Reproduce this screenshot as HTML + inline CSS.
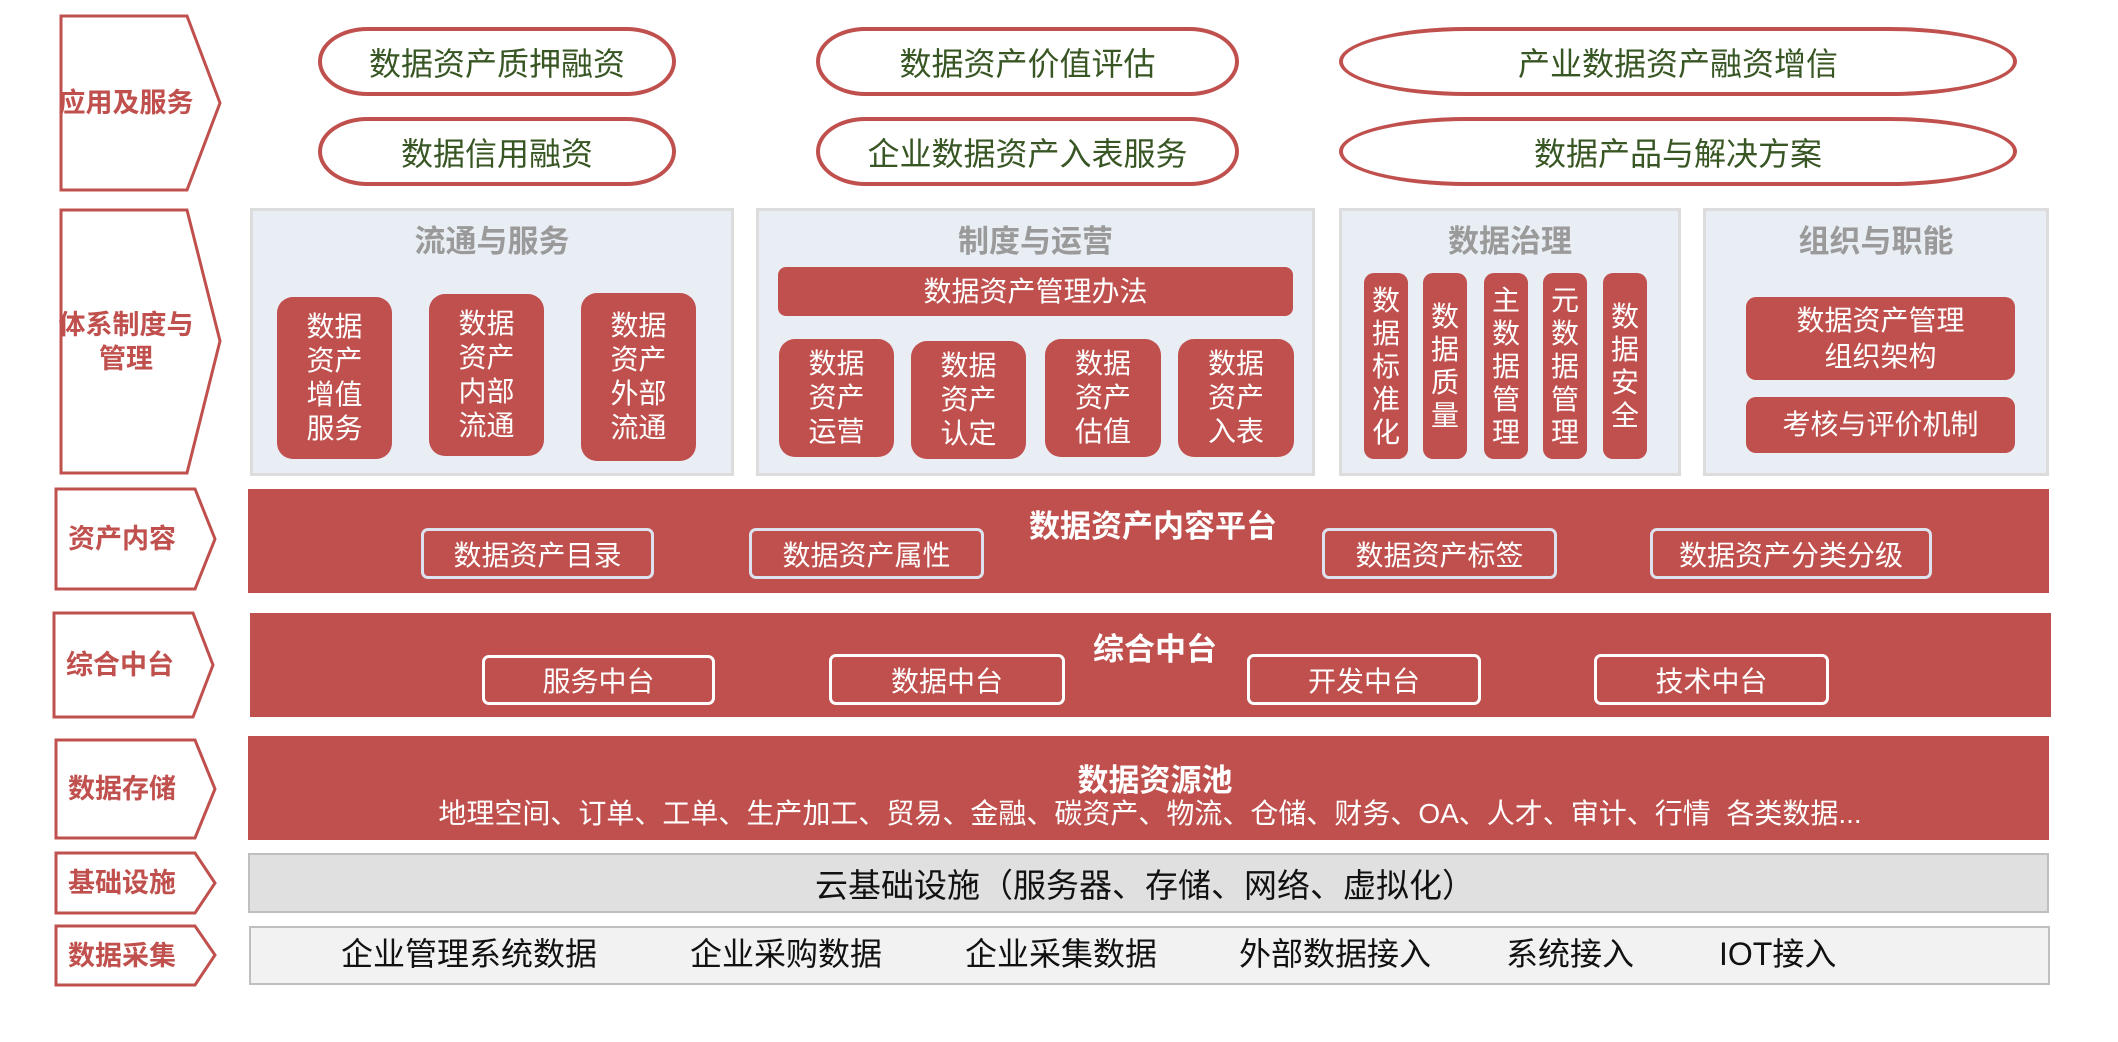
<!DOCTYPE html>
<html><head><meta charset="utf-8"><style>
*{margin:0;padding:0;box-sizing:border-box}
body{width:2118px;height:1042px;background:#fff;position:relative;overflow:hidden;font-family:"Liberation Sans","Noto Sans CJK SC",sans-serif}
.a{position:absolute;display:flex;align-items:center;justify-content:center;text-align:center}
.pill{border:4px solid #c0504d;border-radius:50px/35px;color:#375623;font-size:32px;background:#fff}
.wide{border-radius:130px/35px}
.panel{position:absolute;background:#e9eef5;border:3px solid #dcdcdc}
.pt{color:#9a9a9a;font-size:31px;font-weight:bold}
.card{background:#c0504d;color:#fff;border-radius:16px;font-size:28px;line-height:34px}
.strip{background:#c0504d;color:#fff;border-radius:10px;font-size:28px;line-height:33px;width:44px}
.bar{background:#c0504d}
.ib{border:3px solid #dde3ee;border-radius:7px;color:#fff;font-size:28px}
.wb{border:3px solid #fff;border-radius:7px;color:#fff;font-size:28px}
.ttl{color:#fff;font-weight:bold;font-size:31px}
.lbl{color:#c0504d;font-weight:bold;font-size:27px;line-height:34px}
.ct{font-size:32px;color:#111}
</style></head><body>
<svg width="2118" height="1042" style="position:absolute;left:0;top:0">
<g fill="#fff" stroke="#c0504d" stroke-width="3">
<polygon points="61,16 187,16 220,103 187,190 61,190"/>
<polygon points="61,210 187,210 220,341 187,473 61,473"/>
<polygon points="56,489 195,489 215,539 195,589 56,589"/>
<polygon points="54,613 193,613 213,665 193,717 54,717"/>
<polygon points="56,740 195,740 215,789 195,838 56,838"/>
<polygon points="56,853 195,853 215,883 195,913 56,913"/>
<polygon points="56,926 195,926 215,955 195,985 56,985"/>
</g></svg>
<div class="a lbl" style="left:56px;top:16px;width:140px;height:174px">应用及服务</div>
<div class="a lbl" style="left:56px;top:210px;width:140px;height:263px">体系制度与<br>管理</div>
<div class="a lbl" style="left:52px;top:489px;width:140px;height:100px">资产内容</div>
<div class="a lbl" style="left:50px;top:613px;width:140px;height:104px">综合中台</div>
<div class="a lbl" style="left:52px;top:740px;width:140px;height:98px">数据存储</div>
<div class="a lbl" style="left:52px;top:853px;width:140px;height:60px">基础设施</div>
<div class="a lbl" style="left:52px;top:926px;width:140px;height:59px">数据采集</div>

<div class="a pill" style="left:318px;top:27px;width:358px;height:69px">数据资产质押融资</div>
<div class="a pill" style="left:318px;top:117px;width:358px;height:69px">数据信用融资</div>
<div class="a pill" style="left:816px;top:27px;width:423px;height:69px">数据资产价值评估</div>
<div class="a pill" style="left:816px;top:117px;width:423px;height:69px">企业数据资产入表服务</div>
<div class="a pill wide" style="left:1339px;top:27px;width:678px;height:69px">产业数据资产融资增信</div>
<div class="a pill wide" style="left:1339px;top:117px;width:678px;height:69px">数据产品与解决方案</div>

<div class="panel" style="left:250px;top:208px;width:484px;height:268px"></div>
<div class="panel" style="left:756px;top:208px;width:559px;height:268px"></div>
<div class="panel" style="left:1339px;top:208px;width:342px;height:268px"></div>
<div class="panel" style="left:1703px;top:208px;width:346px;height:268px"></div>
<div class="a pt" style="left:250px;top:218px;width:484px;height:40px">流通与服务</div>
<div class="a pt" style="left:756px;top:218px;width:559px;height:40px">制度与运营</div>
<div class="a pt" style="left:1339px;top:218px;width:342px;height:40px">数据治理</div>
<div class="a pt" style="left:1703px;top:218px;width:346px;height:40px">组织与职能</div>

<div class="a card" style="left:277px;top:297px;width:115px;height:162px">数据<br>资产<br>增值<br>服务</div>
<div class="a card" style="left:429px;top:294px;width:115px;height:162px">数据<br>资产<br>内部<br>流通</div>
<div class="a card" style="left:581px;top:293px;width:115px;height:168px">数据<br>资产<br>外部<br>流通</div>

<div class="a card" style="left:778px;top:267px;width:515px;height:49px;border-radius:8px">数据资产管理办法</div>
<div class="a card" style="left:779px;top:339px;width:115px;height:118px">数据<br>资产<br>运营</div>
<div class="a card" style="left:911px;top:341px;width:115px;height:118px">数据<br>资产<br>认定</div>
<div class="a card" style="left:1045px;top:339px;width:116px;height:118px">数据<br>资产<br>估值</div>
<div class="a card" style="left:1178px;top:339px;width:116px;height:118px">数据<br>资产<br>入表</div>

<div class="a strip" style="left:1364px;top:273px;height:186px">数<br>据<br>标<br>准<br>化</div>
<div class="a strip" style="left:1423px;top:273px;height:186px">数<br>据<br>质<br>量</div>
<div class="a strip" style="left:1484px;top:273px;height:186px">主<br>数<br>据<br>管<br>理</div>
<div class="a strip" style="left:1543px;top:273px;height:186px">元<br>数<br>据<br>管<br>理</div>
<div class="a strip" style="left:1603px;top:273px;height:186px">数<br>据<br>安<br>全</div>

<div class="a card" style="left:1746px;top:297px;width:269px;height:83px;border-radius:10px;line-height:36px">数据资产管理<br>组织架构</div>
<div class="a card" style="left:1746px;top:397px;width:269px;height:56px;border-radius:10px">考核与评价机制</div>

<div class="bar" style="position:absolute;left:248px;top:489px;width:1801px;height:104px"></div>
<div class="a ttl" style="left:1003px;top:505px;width:300px;height:36px">数据资产内容平台</div>
<div class="a ib" style="left:421px;top:528px;width:233px;height:51px">数据资产目录</div>
<div class="a ib" style="left:749px;top:528px;width:235px;height:51px">数据资产属性</div>
<div class="a ib" style="left:1322px;top:528px;width:235px;height:51px">数据资产标签</div>
<div class="a ib" style="left:1650px;top:528px;width:282px;height:51px">数据资产分类分级</div>

<div class="bar" style="position:absolute;left:250px;top:613px;width:1801px;height:104px"></div>
<div class="a ttl" style="left:1080px;top:628px;width:150px;height:36px">综合中台</div>
<div class="a wb" style="left:482px;top:655px;width:233px;height:50px">服务中台</div>
<div class="a wb" style="left:829px;top:654px;width:236px;height:51px">数据中台</div>
<div class="a wb" style="left:1247px;top:654px;width:234px;height:51px">开发中台</div>
<div class="a wb" style="left:1594px;top:654px;width:235px;height:51px">技术中台</div>

<div class="bar" style="position:absolute;left:248px;top:736px;width:1801px;height:104px"></div>
<div class="a ttl" style="left:1055px;top:758px;width:200px;height:38px">数据资源池</div>
<div class="a" style="left:380px;top:795px;width:1540px;height:34px;color:#fff;font-size:28px;white-space:pre">地理空间、订单、工单、生产加工、贸易、金融、碳资产、物流、仓储、财务、OA、人才、审计、行情  各类数据...</div>

<div style="position:absolute;left:248px;top:853px;width:1801px;height:60px;background:#e0e0e0;border:2px solid #bfbfbf"></div>
<div class="a ct" style="left:680px;top:853px;width:930px;height:60px;font-size:33px">云基础设施（服务器、存储、网络、虚拟化）</div>

<div style="position:absolute;left:249px;top:926px;width:1801px;height:59px;background:#f2f2f2;border:2px solid #bfbfbf"></div>
<div class="ct" style="position:absolute;left:341px;top:935px;line-height:38px">企业管理系统数据</div>
<div class="ct" style="position:absolute;left:690px;top:935px;line-height:38px">企业采购数据</div>
<div class="ct" style="position:absolute;left:965px;top:935px;line-height:38px">企业采集数据</div>
<div class="ct" style="position:absolute;left:1239px;top:935px;line-height:38px">外部数据接入</div>
<div class="ct" style="position:absolute;left:1506px;top:935px;line-height:38px">系统接入</div>
<div class="ct" style="position:absolute;left:1719px;top:935px;line-height:38px">IOT接入</div>
</body></html>
